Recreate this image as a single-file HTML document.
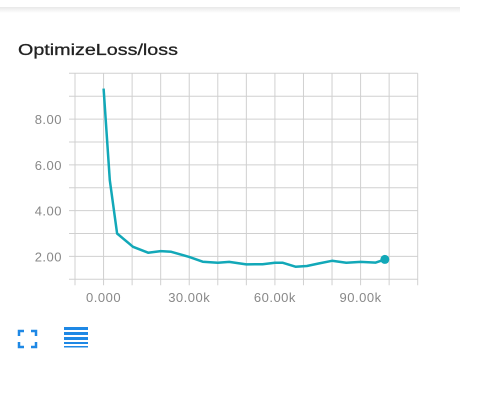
<!DOCTYPE html>
<html><head><meta charset="utf-8"><style>
html,body{margin:0;padding:0;background:#fff;width:489px;height:408px;overflow:hidden}
svg{display:block}
</style></head><body>
<svg width="489" height="408" xmlns="http://www.w3.org/2000/svg">
<defs><linearGradient id="sh" x1="0" y1="0" x2="0" y2="1"><stop offset="0" stop-color="#e8e8e8"/><stop offset="1" stop-color="#fff"/></linearGradient></defs>
<rect x="0" y="7" width="460" height="6" fill="url(#sh)"/>
<text x="18" y="55" font-family="Liberation Sans, sans-serif" font-size="16" fill="#222" stroke="#222" stroke-width="0.3" textLength="160" lengthAdjust="spacingAndGlyphs">OptimizeLoss/loss</text>
<g id="grid"></g>
<g id="axes"></g>
<g id="series"></g>
<g fill="none" stroke="#1e88e5" stroke-width="2.5">
<path d="M19 336v-5h5M31 331h5v5M36 342v5h-5M24 347h-5v-5"/>
</g>
<g fill="#1e88e5">
<rect x="64" y="327" width="24" height="3"/><rect x="64" y="332" width="24" height="3"/><rect x="64" y="337" width="24" height="3"/><rect x="64" y="342" width="24" height="2"/><rect x="64" y="346" width="24" height="1.5"/>
</g>
</svg>
<script>
const steps=[0,2200,4750,10300,15600,20000,23700,30000,34700,40000,44000,50000,55700,60000,62800,67200,71200,75300,80000,85000,90000,95300,98500];
const loss=[9.33,5.33,3.0,2.42,2.16,2.23,2.2,1.98,1.77,1.72,1.76,1.65,1.66,1.72,1.72,1.55,1.58,1.69,1.81,1.72,1.76,1.73,1.87];
const xTicks=[0,30000,60000,90000];
const xTickLabels=["0.000","30.00k","60.00k","90.00k"];
const yTicks=[2,4,6,8];
const yTickLabels=["2.00","4.00","6.00","8.00"];
const X0=75,X1=417.7,Y0=279.3,Y1=73.3,xmin=-10000,xmax=110000,ymin=1,ymax=10;
const sx=v=>X0+(v-xmin)/(xmax-xmin)*(X1-X0);
const sy=v=>Y0-(v-ymin)/(ymax-ymin)*(Y0-Y1);
const NS="http://www.w3.org/2000/svg";
function mk(p,t,a){const e=document.createElementNS(NS,t);for(const k in a)e.setAttribute(k,a[k]);p.appendChild(e);return e;}
const g=document.getElementById('grid'),ax=document.getElementById('axes'),se=document.getElementById('series');
for(let v=xmin;v<=xmax;v+=10000){const l=mk(g,'line',{x1:sx(v),x2:sx(v),y1:Y1,y2:Y0+6,stroke:'#d0d0d0','stroke-width':1});

}
for(let v=ymin;v<=ymax;v+=1){const l=mk(g,'line',{x1:X0-6,x2:X1,y1:sy(v),y2:sy(v),stroke:'#d0d0d0','stroke-width':1});

}
xTicks.forEach((v,i)=>{const t=mk(ax,'text',{x:sx(v),y:302,'text-anchor':'middle','font-family':'Liberation Sans, sans-serif','font-size':13,fill:'#888','letter-spacing':'0.5'});t.textContent=xTickLabels[i];

});
yTicks.forEach((v,i)=>{const t=mk(ax,'text',{x:62,y:sy(v)+5,'text-anchor':'end','font-family':'Liberation Sans, sans-serif','font-size':13,fill:'#888','letter-spacing':'0.5'});t.textContent=yTickLabels[i];

});
const d=steps.map((s,i)=>(i?'L':'M')+sx(s).toFixed(1)+' '+sy(loss[i]).toFixed(1)).join(' ');
const p=mk(se,'path',{d:d,fill:'none',stroke:'#12a8b8','stroke-width':2.5,'stroke-linejoin':'round'});


const n=steps.length-1;
const c=mk(se,'circle',{cx:sx(steps[n]),cy:sy(loss[n]),r:4.5,fill:'#12a8b8'});


</script>
</body></html>
